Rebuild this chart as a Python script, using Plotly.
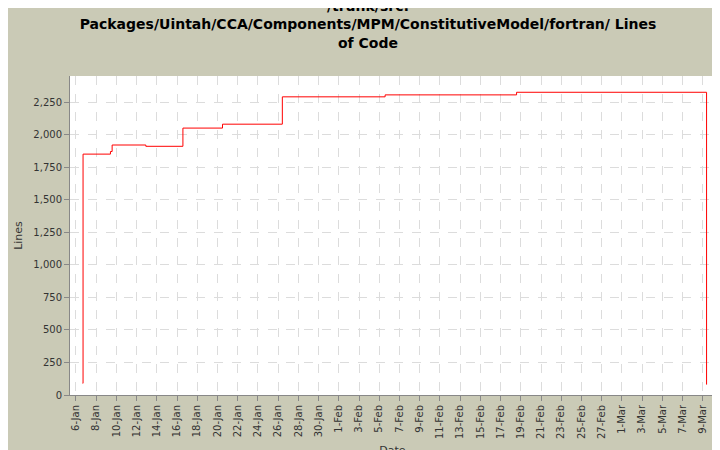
import plotly.graph_objects as go

dates = ["2007-01-06 16:00", "2007-01-06 17:00", "2007-01-09 10:00", "2007-01-09 14:00",
         "2007-01-12 22:00", "2007-01-16 14:00", "2007-01-20 12:00", "2007-01-26 10:00",
         "2007-02-05 14:00", "2007-02-18 14:00", "2007-03-09 08:00", "2007-03-09 09:00"]
lines = [90, 1850, 1870, 1920, 1910, 2050, 2080, 2290, 2305, 2325, 2325, 80]

fig = go.Figure(go.Scatter(x=dates, y=lines, mode="lines", line=dict(color="#ff0000", width=1, shape="hv")))
ticks = ["2007-01-%02d" % d for d in range(6, 31, 2)] + ["2007-02-%02d" % d for d in range(1, 28, 2)] + ["2007-03-%02d" % d for d in range(1, 10, 2)]
grid = dict(showgrid=True, gridcolor="#dcdcdc", griddash="dash", gridwidth=1, showline=True, linecolor="#888",
            ticks="outside", tickcolor="#888", automargin=False)
fig.update_layout(
    width=720, height=450, paper_bgcolor="#cacab6", plot_bgcolor="white",
    margin=dict(l=62, r=13, t=68, b=63),
    font=dict(family="DejaVu Sans", size=10, color="#333"),
    title=dict(text="<b>/trunk/src:<br>Packages/Uintah/CCA/Components/MPM/ConstitutiveModel/fortran/ Lines<br>of Code</b>",
               x=0.5, xanchor="center", y=0.993, yanchor="top", automargin=False,
               font=dict(size=14, color="black", family="DejaVu Sans")),
    xaxis=dict(range=["2007-01-05 10:00", "2007-03-10 05:00"], tickvals=ticks, tickformat="%-d-%b", tickangle=-90,
               title=dict(text="Date", font=dict(size=11), standoff=8), **grid),
    yaxis=dict(range=[0, 2450], tickvals=list(range(0, 2500, 250)), tickformat=",",
               title=dict(text="Lines", font=dict(size=11), standoff=8), **grid),
    showlegend=False,
)
fig.write_html("out.html")
